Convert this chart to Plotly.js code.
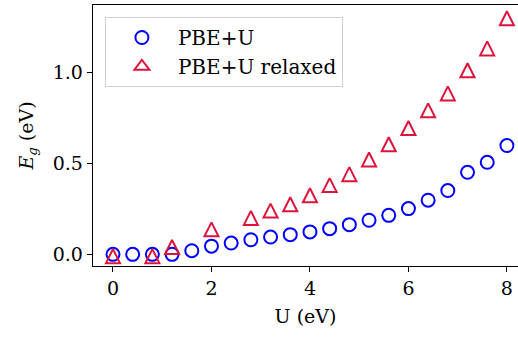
<!DOCTYPE html>
<html>
<head>
<meta charset="utf-8">
<script src="https://cdn.plot.ly/plotly-3.0.1.min.js"></script>
<style>
  html, body { margin: 0; padding: 0; background: #ffffff; }
  #chart { width: 518px; height: 339px; }
</style>
</head>
<body>
<div id="chart"></div>
<script>
// U values (eV) and band gaps (eV)
const uPBE = [0, 0.4, 0.8, 1.2, 1.6, 2.0, 2.4, 2.8, 3.2, 3.6, 4.0, 4.4, 4.8, 5.2, 5.6, 6.0, 6.4, 6.8, 7.2, 7.6, 8.0];
const egPBE = [0, 0, 0, 0, 0.02, 0.045, 0.062, 0.08, 0.095, 0.108, 0.123, 0.141, 0.163, 0.187, 0.214, 0.251, 0.297, 0.35, 0.45, 0.505, 0.597];

const uRelaxed = [0, 0.8, 1.2, 2.0, 2.8, 3.2, 3.6, 4.0, 4.4, 4.8, 5.2, 5.6, 6.0, 6.4, 6.8, 7.2, 7.6, 8.0];
const egRelaxed = [-0.01, -0.01, 0.04, 0.137, 0.2, 0.24, 0.275, 0.324, 0.38, 0.44, 0.52, 0.604, 0.693, 0.79, 0.883, 1.01, 1.13, 1.295];

const seriesNames = ['PBE+U', 'PBE+U relaxed'];
const xTicks = [0, 2, 4, 6, 8];
const yTicks = [0, 0.5, 1.0];
const yTickText = ['0.0', '0.5', '1.0'];

const FONT = 'DejaVu Serif';
const FS = 19;
const triSize = 14;
const blue = '#0000ff';
const red = '#dc143c';

const traces = [
  {
    x: uPBE, y: egPBE, name: seriesNames[0], type: 'scatter', mode: 'markers',
    marker: { symbol: 'circle-open', size: 13, color: blue, line: { width: 2, color: blue } }
  },
  {
    // drawn markers: equal-height triangles centred on the data points
    x: uRelaxed, y: egRelaxed, name: seriesNames[1], type: 'scatter', mode: 'markers',
    showlegend: false,
    marker: { symbol: 'arrow-down-open', angle: 180, standoff: triSize / 2, size: triSize, color: red, line: { width: 2, color: red } }
  },
  {
    // legend entry only
    x: [null], y: [null], name: seriesNames[1], type: 'scatter', mode: 'markers',
    marker: { symbol: 'triangle-up-open', size: 13, color: red, line: { width: 2, color: red } }
  }
];

const layout = {
  width: 518, height: 339,
  margin: { l: 93, r: 0, t: 5, b: 73 },
  paper_bgcolor: '#ffffff', plot_bgcolor: '#ffffff',
  font: { family: FONT, size: FS, color: '#000000' },
  showlegend: true,
  legend: {
    x: 0.028, y: 0.954, xanchor: 'left', yanchor: 'top',
    bgcolor: 'rgba(255,255,255,0.8)', bordercolor: '#d0d0d0', borderwidth: 1,
    font: { family: FONT, size: 20, color: '#000000' },
    itemwidth: 62, tracegroupgap: 0
  },
  xaxis: {
    range: [-0.406, 8.225],
    tickvals: xTicks, ticktext: xTicks.map(String),
    ticks: 'outside', ticklen: 5, tickwidth: 1, tickcolor: '#000',
    showline: true, linecolor: '#000', linewidth: 1.3, mirror: true,
    showgrid: false, zeroline: false,
    tickfont: { family: FONT, size: FS },
    title: { text: 'U (eV)', font: { family: FONT, size: FS }, standoff: 11 }
  },
  yaxis: {
    range: [-0.064, 1.368],
    tickvals: yTicks, ticktext: yTickText,
    ticks: 'outside', ticklen: 5, tickwidth: 1, tickcolor: '#000',
    showline: true, linecolor: '#000', linewidth: 1.3,
    showgrid: false, zeroline: false,
    tickfont: { family: FONT, size: FS },
    title: { text: '<i>E<sub>g</sub></i> (eV)', font: { family: FONT, size: FS }, standoff: 14 }
  }
};

Plotly.newPlot('chart', traces, layout, { displayModeBar: false, staticPlot: true });
</script>
</body>
</html>
